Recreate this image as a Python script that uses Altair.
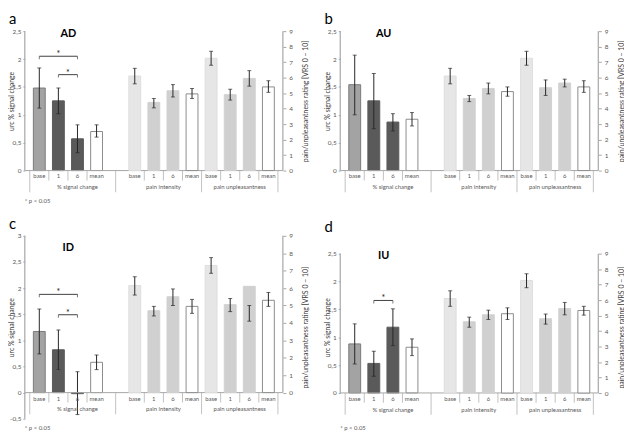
import altair as alt
import pandas as pd

FONT = "Lato"

categories = ["base", "1", "6", "mean"]
group_names = ["% signal change", "pain intensity", "pain unpleasantness"]
letters = ["a", "b", "c", "d"]
regions = ["AD", "AU", "ID", "IU"]

# each entry: (bar value, lower end of error bar, upper end of error bar)
AD_signal = [(1.48, 1.12, 1.84), (1.25, 1.02, 1.48), (0.57, 0.32, 0.82), (0.70, 0.60, 0.82)]
AD_intensity = [(6.1, 5.6, 6.6), (4.4, 4.05, 4.65), (5.15, 4.75, 5.55), (4.95, 4.65, 5.3)]
AD_unpleasant = [(7.25, 6.8, 7.7), (4.9, 4.55, 5.25), (5.95, 5.45, 6.45), (5.4, 5.05, 5.8)]
AD_brackets = [(0, 2, 2.05), (1, 2, 1.72)]

AU_signal = [(1.54, 1.0, 2.07), (1.25, 0.75, 1.74), (0.87, 0.71, 1.02), (0.92, 0.80, 1.04)]
AU_intensity = [(6.1, 5.6, 6.6), (4.65, 4.45, 4.85), (5.3, 4.95, 5.65), (5.1, 4.8, 5.4)]
AU_unpleasant = [(7.25, 6.8, 7.7), (5.35, 4.85, 5.85), (5.65, 5.4, 5.9), (5.4, 5.05, 5.8)]
AU_brackets = []

ID_signal = [(1.17, 0.74, 1.60), (0.82, 0.44, 1.20), (-0.02, -0.42, 0.40), (0.58, 0.44, 0.72)]
ID_intensity = [(6.15, 5.6, 6.65), (4.7, 4.4, 4.95), (5.5, 5.0, 5.95), (4.95, 4.55, 5.35)]
ID_unpleasant = [(7.3, 6.85, 7.75), (5.05, 4.65, 5.4), (6.1, 4.1, 5.0), (5.3, 4.95, 5.75)]
ID_brackets = [(0, 2, 1.88), (1, 2, 1.49)]

IU_signal = [(0.88, 0.52, 1.24), (0.53, 0.30, 0.75), (1.18, 0.85, 1.51), (0.82, 0.67, 0.97)]
IU_intensity = [(6.1, 5.6, 6.6), (4.6, 4.25, 4.9), (5.05, 4.75, 5.35), (5.12, 4.75, 5.5)]
IU_unpleasant = [(7.27, 6.8, 7.7), (4.8, 4.45, 5.1), (5.45, 5.05, 5.85), (5.33, 5.03, 5.6)]
IU_brackets = [(1, 2, 1.66)]

signal_ticks = [0, 0.5, 1, 1.5, 2, 2.5]
signal_ticks_c = [-0.5, 0, 0.5, 1, 1.5, 2, 2.5, 3]
rating_ticks = [0, 1, 2, 3, 4, 5, 6, 7, 8, 9]

W = 261
AXIS_GREY = "#a6a6a6"
TEXT_GREY = "#595959"
ERR = "#262626"

kinds = ["sig_base", "sig_bar", "sig_mean", "pain_base", "pain_bar", "pain_mean"]
fill_scale = alt.Scale(domain=kinds, range=["#a3a3a3", "#5a5a5a", "#ffffff", "#e6e6e6", "#d0d0d0", "#ffffff"])
stroke_scale = alt.Scale(domain=kinds, range=["#7a7a7a", "#5a5a5a", "#8c8c8c", "#dedede", "#d0d0d0", "#8c8c8c"])

sig_slots = [0, 1, 2, 3]
int_slots = [5, 6, 7, 8]
unp_slots = [9, 10, 11, 12]

xscale = alt.Scale(domain=[-0.5, 12.5], nice=False, zero=False)


def X(field):
    return alt.X(field, type="quantitative", scale=xscale, axis=None)


def bars_frame(values, slots, prefix):
    kind = [prefix + "_base", prefix + "_bar", prefix + "_bar", prefix + "_mean"]
    return pd.DataFrame({
        "slot": slots,
        "cat": categories,
        "v": [t[0] for t in values],
        "lo": [t[1] for t in values],
        "hi": [t[2] for t in values],
        "kind": kind,
    })


def bar_layers(df, yscale, axis):
    bars = alt.Chart(df).mark_bar(size=12, strokeWidth=1).encode(
        x=X("slot"),
        y=alt.Y("v:Q", scale=yscale, axis=axis),
        fill=alt.Fill("kind:N", scale=fill_scale, legend=None),
        stroke=alt.Stroke("kind:N", scale=stroke_scale, legend=None),
    )
    err = alt.Chart(df).mark_rule(color=ERR, strokeWidth=1).encode(
        x=X("slot"), y=alt.Y("lo:Q", scale=yscale, axis=axis), y2="hi:Q")
    cap_lo = alt.Chart(df).mark_tick(orient="horizontal", size=4, thickness=1, color=ERR).encode(
        x=X("slot"), y=alt.Y("lo:Q", scale=yscale, axis=axis))
    cap_hi = alt.Chart(df).mark_tick(orient="horizontal", size=4, thickness=1, color=ERR).encode(
        x=X("slot"), y=alt.Y("hi:Q", scale=yscale, axis=axis))
    return [bars, err, cap_lo, cap_hi]


def panel(letter, region, signal, intensity, unpleasant, brackets, H, ldom, lvals, rdom, name_y, note_y, with_note):
    lscale = alt.Scale(domain=ldom, nice=False, zero=False)
    rscale = alt.Scale(domain=rdom, nice=False, zero=False)
    laxis = alt.Axis(values=lvals, labelExpr="replace(toString(datum.value), '.', ',')",
                     domain=False, ticks=True, tickSize=2, tickColor=AXIS_GREY, grid=False,
                     labelFontSize=6.5, labelColor=TEXT_GREY, labelFont=FONT, labelPadding=2,
                     title="urc % signal change", titleFontSize=7, titleFont=FONT,
                     titleFontWeight="normal", titleColor="#404040",
                     titleAngle=270, titleAlign="center", titleBaseline="middle",
                     titleX=-13, titleY=H / 2)
    raxis = alt.Axis(orient="right", values=rating_ticks, domain=False, ticks=True, tickSize=3,
                     tickColor=AXIS_GREY, grid=False, labelFontSize=6.5, labelColor=TEXT_GREY,
                     labelFont=FONT, labelPadding=3,
                     title="pain/unpleasantness rating [VRS 0 – 10]", titleAngle=270,
                     titleFontSize=7, titleFont=FONT, titleFontWeight="normal",
                     titleColor="#404040", titleAlign="center", titleBaseline="middle",
                     titleX=23, titleY=H / 2)

    def YL(field):
        return alt.Y(field, type="quantitative", scale=lscale, axis=laxis)

    def Y0():
        return alt.YDatum(0, scale=lscale, axis=laxis)

    sig_df = bars_frame(signal, sig_slots, "sig")
    pain_df = pd.concat([bars_frame(intensity, int_slots, "pain"),
                         bars_frame(unpleasant, unp_slots, "pain")], ignore_index=True)

    left = bar_layers(sig_df, lscale, laxis)

    # axis lines
    left.append(alt.Chart(pd.DataFrame({"k": [0]})).mark_rule(color=AXIS_GREY, strokeWidth=1.2).encode(
        x=alt.value(0), y=alt.YDatum(max(lvals), scale=lscale, axis=laxis), y2=alt.Y2Datum(min(lvals))))
    left.append(alt.Chart(pd.DataFrame({"k": [0]})).mark_rule(color=AXIS_GREY, strokeWidth=1).encode(
        x=alt.value(0), x2=alt.value(W), y=Y0()))

    # category dividers
    all_slots = [sig_slots, int_slots, unp_slots]
    short = [(g[i] + g[i + 1]) / 2 for g in all_slots for i in range(len(g) - 1)]
    long_ = [sig_slots[0] - 0.5, (sig_slots[-1] + int_slots[0]) / 2,
             (int_slots[-1] + unp_slots[0]) / 2, unp_slots[-1] + 0.5]
    left.append(alt.Chart(pd.DataFrame({"p": short})).mark_tick(
        orient="vertical", size=10, thickness=1, color=AXIS_GREY, yOffset=5).encode(x=X("p"), y=Y0()))
    left.append(alt.Chart(pd.DataFrame({"p": long_})).mark_tick(
        orient="vertical", size=22, thickness=1, color=AXIS_GREY, yOffset=11).encode(x=X("p"), y=Y0()))

    # category labels
    lab_df = pd.DataFrame({"slot": sig_slots + int_slots + unp_slots, "cat": categories * 3})
    left.append(alt.Chart(lab_df).mark_text(fontSize=6, font=FONT, color=TEXT_GREY, dy=6).encode(
        x=X("slot"), y=Y0(), text="cat:N"))
    centers = [(sig_slots[0] + int_slots[0] - 1) / 2, (int_slots[0] + int_slots[-1]) / 2,
               (unp_slots[0] + unp_slots[-1]) / 2]
    grp_df = pd.DataFrame({"c": centers, "g": group_names})
    left.append(alt.Chart(grp_df).mark_text(fontSize=6, font=FONT, color=TEXT_GREY, dy=17).encode(
        x=X("c"), y=Y0(), text="g:N"))

    # significance brackets
    if brackets:
        br = pd.DataFrame({"a": [sig_slots[b[0]] for b in brackets],
                           "b": [sig_slots[b[1]] for b in brackets],
                           "lev": [b[2] for b in brackets]})
        br["m"] = (br["a"] + br["b"]) / 2
        left.append(alt.Chart(br).mark_rule(color="#404040", strokeWidth=1).encode(
            x=X("a"), x2="b:Q", y=YL("lev")))
        for col in ["a", "b"]:
            left.append(alt.Chart(br).mark_tick(orient="vertical", size=3, thickness=1,
                                                color="#404040", yOffset=1.5).encode(
                x=X(col), y=YL("lev")))
        left.append(alt.Chart(br).mark_text(text="*", fontSize=9, font=FONT, color="#202020", dy=-2).encode(
            x=X("m"), y=YL("lev")))

    # region name
    left.append(alt.Chart(pd.DataFrame({"t": [region]})).mark_text(
        fontSize=11, font=FONT, fontWeight="bold", color="#000000").encode(
        x=alt.value(44), y=alt.value(name_y), text="t:N"))
    if with_note:
        left.append(alt.Chart(pd.DataFrame({"t": ["* p < 0.05"]})).mark_text(
            fontSize=6, font=FONT, color=TEXT_GREY, align="left").encode(
            x=alt.value(0), y=alt.value(note_y), text="t:N"))

    right = bar_layers(pain_df, rscale, raxis)
    right.append(alt.Chart(pd.DataFrame({"k": [0]})).mark_rule(color=AXIS_GREY, strokeWidth=1.2).encode(
        x=alt.value(W), y=alt.YDatum(9, scale=rscale, axis=raxis), y2=alt.Y2Datum(0)))

    return alt.layer(alt.layer(*left), alt.layer(*right)).resolve_scale(y="independent").properties(
        width=W, height=H,
        title=alt.TitleParams(text=letter, anchor="start", fontSize=15, font=FONT,
                              fontWeight="normal", color="#000000", offset=1, dx=1))


pa = panel(letters[0], regions[0], AD_signal, AD_intensity, AD_unpleasant, AD_brackets,
           141, [0, 2.5], signal_ticks, [0, 9], 3, 172, True)
pb = panel(letters[1], regions[1], AU_signal, AU_intensity, AU_unpleasant, AU_brackets,
           141, [0, 2.5], signal_ticks, [0, 9], 3, 172, False)
pc = panel(letters[2], regions[2], ID_signal, ID_intensity, ID_unpleasant, ID_brackets,
           185, [-0.5, 3], signal_ticks_c, [-1.5, 9], 12, 194, True)
pd_ = panel(letters[3], regions[3], IU_signal, IU_intensity, IU_unpleasant, IU_brackets,
            185, [-0.463, 2.82], signal_ticks, [-1.66, 10.15], 20, 194, True)

chart = alt.vconcat(
    alt.hconcat(pa, pb, spacing=15),
    alt.hconcat(pc, pd_, spacing=15),
    spacing=13,
).properties(padding={"left": 0, "top": 2, "right": 0, "bottom": 0}).configure_view(stroke=None)

chart.save("out.html", embed_options={"renderer": "svg", "actions": False})
